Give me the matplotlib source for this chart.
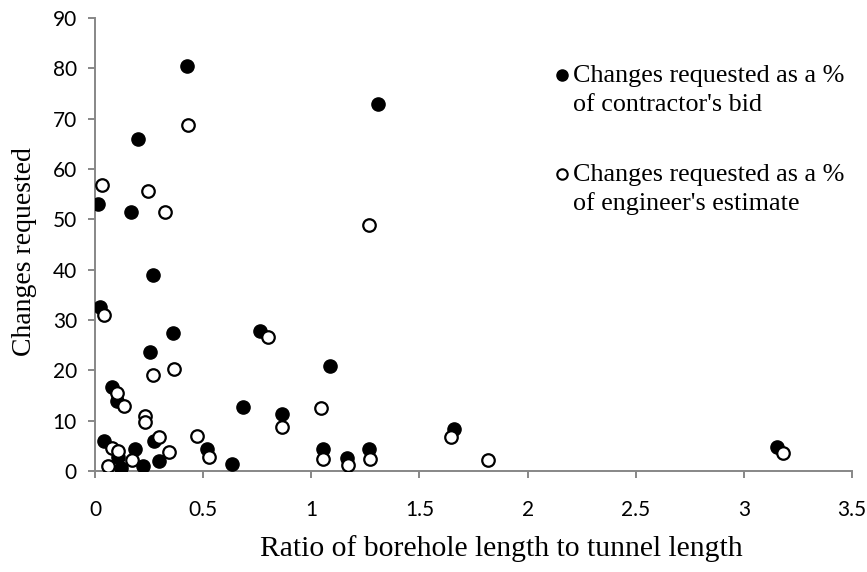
import matplotlib
matplotlib.use('Agg')
import matplotlib.pyplot as plt
from matplotlib.lines import Line2D

############################## Data ############################################
# ratio of borehole length to tunnel length and changes requested (%)
bid_ratio = [0.014, 0.025, 0.040, 0.079, 0.102, 0.108, 0.118, 0.165, 0.185,
             0.199, 0.221, 0.255, 0.269, 0.272, 0.298, 0.361, 0.424, 0.519,
             0.633, 0.682, 0.762, 0.864, 1.056, 1.088, 1.164, 1.267, 1.307,
             1.662, 3.155]
bid_changes = [53.0, 32.5, 6.0, 16.6, 14.0, 2.7, 0.6, 51.4, 4.3,
               65.9, 1.0, 23.6, 38.9, 6.0, 1.9, 27.5, 80.4, 4.4,
               1.3, 12.7, 27.8, 11.3, 4.4, 20.9, 2.6, 4.4, 72.9,
               8.4, 4.8]

est_ratio = [0.034, 0.040, 0.059, 0.077, 0.102, 0.108, 0.136, 0.171, 0.232,
             0.232, 0.245, 0.270, 0.298, 0.323, 0.344, 0.366, 0.428, 0.471,
             0.528, 0.798, 0.863, 1.044, 1.052, 1.168, 1.269, 1.271, 1.646,
             1.817, 3.181]
est_changes = [56.9, 31.0, 1.0, 4.5, 15.5, 4.0, 12.9, 2.2, 11.0,
               9.8, 55.7, 19.0, 6.8, 51.5, 3.7, 20.2, 68.8, 6.9,
               2.8, 26.7, 8.8, 12.6, 2.4, 1.1, 48.8, 2.3, 6.8,
               2.2, 3.5]

xticks = [0, 0.5, 1, 1.5, 2, 2.5, 3, 3.5]
xticklabels = ['0', '0.5', '1', '1.5', '2', '2.5', '3', '3.5']
yticks = list(range(0, 91, 10))

legend_labels = [["Changes requested as a %", "of contractor's bid"],
                 ["Changes requested as a %", "of engineer's estimate"]]

############################## Figure ##########################################
W, H = 867, 572
fig = plt.figure(figsize=(W / 100, H / 100), dpi=100)
ax = fig.add_axes([95 / W, 1 - 471 / H, (852 - 95) / W, (471 - 18) / H])

axis_grey = '#878787'
serif = ['Liberation Serif', 'DejaVu Serif']

ax.plot(bid_ratio, bid_changes, 'o', color='black', markersize=9.5,
        linestyle='none', zorder=3)
ax.plot(est_ratio, est_changes, 'o', markerfacecolor='white',
        markeredgecolor='black', markeredgewidth=1.6, markersize=9,
        linestyle='none', zorder=3)

ax.set_xlim(0, 3.5)
ax.set_ylim(0, 90)
ax.set_xticks(xticks)
ax.set_xticklabels(xticklabels)
ax.set_yticks(yticks)

for side in ['top', 'right']:
    ax.spines[side].set_visible(False)
for side in ['left', 'bottom']:
    ax.spines[side].set_color(axis_grey)
    ax.spines[side].set_linewidth(1.4)

ax.tick_params(axis='both', direction='out', length=5, width=1.4,
               color=axis_grey, labelsize=15)
ax.tick_params(axis='x', pad=16)
ax.tick_params(axis='y', pad=8)
for lab in ax.get_xticklabels() + ax.get_yticklabels():
    lab.set_family(['Lato', 'DejaVu Sans'])

# axis titles
fig.text(25 / W, 1 - 252 / H, 'Changes requested', rotation=90,
         ha='center', va='center', fontsize=20, family=serif)
fig.text(501 / W, 1 - 549 / H, 'Ratio of borehole length to tunnel length',
         ha='center', va='center', fontsize=21.3, family=serif)

############################## Legend ##########################################
# one marker per entry, two text lines each
entry_y = [82, 181]
line_gap = 29
styles = [dict(markerfacecolor='black', markeredgecolor='black', markersize=8),
          dict(markerfacecolor='white', markeredgecolor='black',
               markeredgewidth=1.5, markersize=7.5)]
for base, lines, st in zip(entry_y, legend_labels, styles):
    fig.add_artist(Line2D([562 / W], [1 - (base - 7) / H], marker='o',
                          linestyle='none', transform=fig.transFigure, **st))
    for i, txt in enumerate(lines):
        fig.text(573 / W, 1 - (base + i * line_gap) / H, txt,
                 ha='left', va='baseline', fontsize=18.8, family=serif)

plt.savefig('out.png', dpi=100)
